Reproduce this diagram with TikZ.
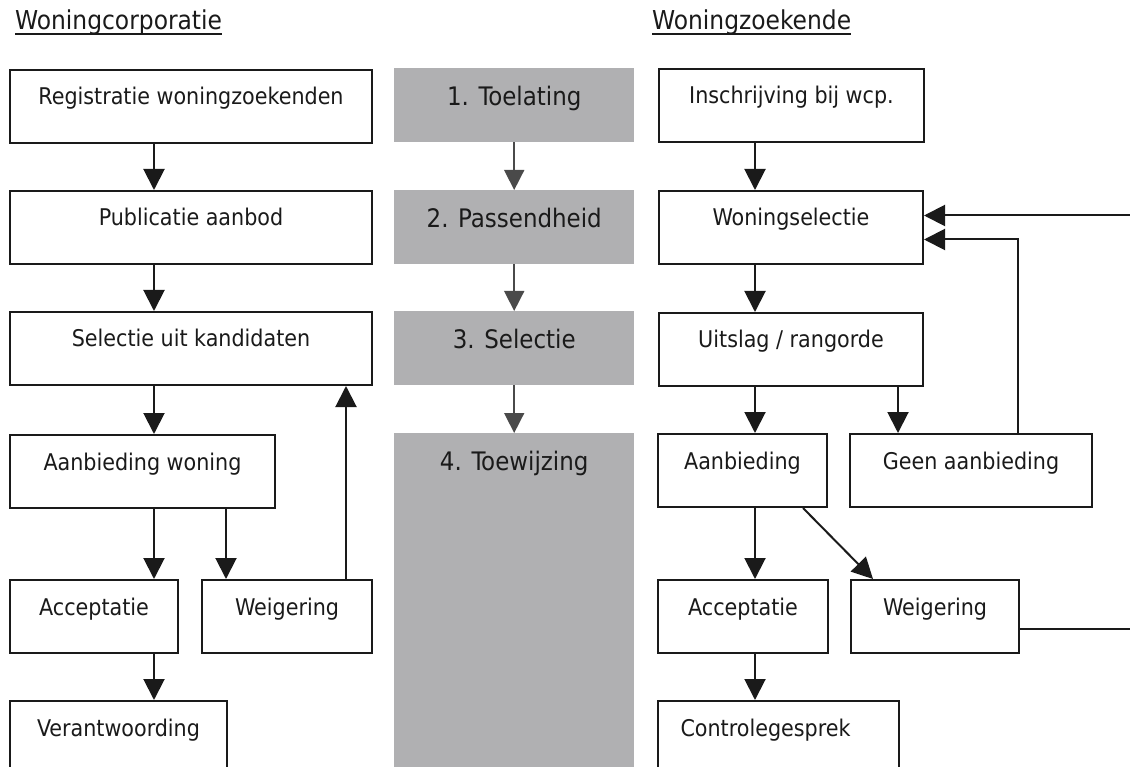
\documentclass[tikz,border=0pt]{standalone}
\usepackage{fontspec}
\setmainfont{DejaVu Sans Condensed}
\usetikzlibrary{arrows.meta}
\definecolor{ink}{HTML}{1A1A1A}
\definecolor{stipple}{RGB}{176,176,178}
\definecolor{garrow}{HTML}{4A4A4A}
\begin{document}
\begin{tikzpicture}[x=1pt,y=-1pt,
  every node/.style={font=\fontsize{23}{26}\selectfont, text=ink},
  box/.style={draw=ink, line width=2pt, fill=white, anchor=north west, inner sep=0pt,
              text height=35pt, text depth=38pt, align=center},
  phase/.style={fill=stipple, anchor=north west, inner sep=0pt, minimum width=240pt,
              text height=37pt, text depth=37pt, font=\fontsize{25.5}{29}\selectfont},
  arr/.style={draw=ink, line width=2pt, -{Triangle[length=21pt,width=21pt]}},
  garr/.style={draw=garrow, line width=1.6pt, -{Triangle[length=20pt,width=20pt]}},
  hdr/.style={anchor=base west, inner sep=0pt, font=\fontsize{26}{30}\selectfont}]
\useasboundingbox (0,0) rectangle (1130,767);
\clip (0,0) rectangle (1130,767);

% headers
\node[hdr] (h1) at (15,30) {Woningcorporatie};
\node[hdr] (h2) at (652,30) {Woningzoekende};
\draw[ink, line width=1.6pt] ([yshift=-4pt]h1.base west) -- ([yshift=-4pt]h1.base east);
\draw[ink, line width=1.6pt] ([yshift=-4pt]h2.base west) -- ([yshift=-4pt]h2.base east);

% column x positions
\coordinate (lx) at (154,0);
\coordinate (lx2) at (226,0);
\coordinate (lup) at (346,0);
\coordinate (rx) at (755,0);
\coordinate (rx2) at (898,0);
\coordinate (rup) at (1018,0);
\coordinate (rdg1) at (803,0);
\coordinate (rdg2) at (873,0);
\coordinate (edge) at (1150,400);

% left column
\node[box, minimum width=362pt] (lreg) at (9,69) {Registratie woningzoekenden};
\node[box, minimum width=362pt] (lpub) at (9,190) {Publicatie aanbod};
\node[box, minimum width=362pt] (lsel) at (9,311) {Selectie uit kandidaten};
\node[box, minimum width=265pt] (laan) at (9,434) {Aanbieding woning};
\node[box, minimum width=168pt] (lacc) at (9,579) {Acceptatie};
\node[box, minimum width=170pt] (lweig) at (201,579) {Weigering};
\node[box, minimum width=217pt] (lver) at (9,700) {Verantwoording};

% middle phases
\node[phase] (g1) at (394,68) {1. Toelating};
\node[phase] (g2) at (394,190) {2. Passendheid};
\node[phase] (g3) at (394,311) {3. Selectie};
\node[phase, text depth=330pt] (g4) at (394,433) {4. Toewijzing};

% right column
\node[box, minimum width=265pt] (rins) at (658,68) {Inschrijving bij wcp.};
\node[box, minimum width=264pt] (rsel) at (658,190) {Woningselectie};
\node[box, minimum width=264pt] (ruit) at (658,312) {Uitslag / rangorde};
\node[box, minimum width=169pt] (raan) at (657,433) {Aanbieding};
\node[box, minimum width=242pt] (rgeen) at (849,433) {Geen aanbieding};
\node[box, minimum width=170pt] (racc) at (657,579) {Acceptatie};
\node[box, minimum width=168pt] (rweig) at (850,579) {Weigering};
\node[box, minimum width=241pt] (rcon) at (657,700) {Controlegesprek\hspace*{26pt}};

% left connectors
\draw[arr] (lreg.south -| lx) -- (lpub.north -| lx);
\draw[arr] (lpub.south -| lx) -- (lsel.north -| lx);
\draw[arr] (lsel.south -| lx) -- (laan.north -| lx);
\draw[arr] (laan.south -| lx) -- (lacc.north -| lx);
\draw[arr] (laan.south -| lx2) -- (lweig.north -| lx2);
\draw[arr] (lacc.south -| lx) -- (lver.north -| lx);
\draw[arr] (lweig.north -| lup) -- (lsel.south -| lup);

% phase connectors
\draw[garr] (g1.south) -- (g2.north);
\draw[garr] (g2.south) -- (g3.north);
\draw[garr] (g3.south) -- (g4.north);

% right connectors
\draw[arr] (rins.south -| rx) -- (rsel.north -| rx);
\draw[arr] (rsel.south -| rx) -- (ruit.north -| rx);
\draw[arr] (ruit.south -| rx) -- (raan.north -| rx);
\draw[arr] (ruit.south -| rx2) -- (rgeen.north -| rx2);
\draw[arr] (raan.south -| rx) -- (racc.north -| rx);
\draw[arr] (racc.south -| rx) -- (rcon.north -| rx);
\draw[arr] (raan.south -| rdg1) -- (rweig.north -| rdg2);
\draw[arr] (rgeen.north -| rup) |- ([yshift=-12pt]rsel.east);
\draw[arr] ([yshift=-12pt]rweig.east) -| (edge) |- ([yshift=12pt]rsel.east);
\end{tikzpicture}
\end{document}
